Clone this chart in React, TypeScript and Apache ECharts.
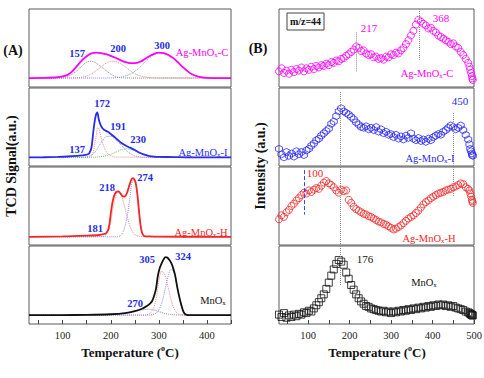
import { useEffect, useRef } from 'react';
import * as echarts from 'echarts';

const SERIF = '"Liberation Serif","Times New Roman",serif';

// ---------- Panel A: H2-TPR (TCD signal) ----------
const tA_C = [30,60,90,100,110,120,130,140,150,160,170,180,190,200,210,220,230,240,250,260,270,280,290,300,310,320,330,340,350,360,370,380,390,400,420,450];
const vA_C = [11.5,11.7,12.5,13.5,15.5,20,27,34,39.5,43,44,43.5,42,40,37.5,34.5,32,30.5,30.5,32,35.5,39.5,42.5,44,43.5,41,37,31.5,25.5,20,16,13.5,12.3,11.8,11.5,11.5];
const tA_C_p1 = [30,90,100,110,120,130,140,150,160,170,180,190,200,210,220,240,450];
const vA_C_p1 = [11.5,11.5,12,13.5,16.5,21,27,32,33,30.5,26,21,16.5,13.5,12,11.5,11.5];
const tA_C_p2 = [30,120,140,150,160,170,180,190,200,210,220,230,240,250,260,270,280,290,300,450];
const vA_C_p2 = [11.5,11.5,12.5,14,17,21,26,30.5,33,32.5,30,26,21,17,14.5,13,12,11.7,11.5,11.5];
const tA_C_p3 = [30,200,220,230,240,250,260,270,280,290,300,310,320,330,340,350,360,370,380,390,400,450];
const vA_C_p3 = [11.5,11.5,12.5,14,16.5,20,25,31,37,41.5,44,43.5,41,37,31.5,25.5,20,16,13.5,12.3,11.8,11.5];

const tA_I = [30,60,90,110,130,140,150,155,160,163,166,169,172,175,178,181,185,190,195,200,210,220,230,240,250,260,270,280,290,300,330,360,450];
const vA_I = [11,11.2,11.7,12.2,13,13.6,14.5,16,24,40,55,65,68.7,60,54,50,47,45,43.5,41,36,30.5,26.5,23.5,20.5,17,14.5,12.8,12,11.7,11.4,11.1,11];
const tA_I_p1 = [30,150,158,162,166,170,173,176,180,185,190,195,200,210,450];
const vA_I_p1 = [11,11,12,15,25,40,50,46,36,26,19,15,13,11.5,11];
const tA_I_p2 = [30,140,150,160,170,180,190,200,210,220,230,240,250,260,270,450];
const vA_I_p2 = [11,11,11.8,14,20,30,37.5,38,34,28,21,16,13,11.8,11.2,11];
const tA_I_p3 = [30,150,170,190,200,210,220,230,240,250,260,270,280,290,300,310,450];
const vA_I_p3 = [11,11,11.5,13,15,17.5,20.5,22,21.5,19.5,17,14.5,13,12,11.5,11.2,11];

const tA_H = [30,100,150,175,185,190,195,198,201,204,207,210,213,216,219,222,225,228,231,234,237,240,243,246,249,252,255,258,261,264,267,270,280,300,450];
const vA_H = [10.5,11,12,12.8,13.8,15,20,30,45,56,63,67,68.5,68.7,67,64.5,62.5,62,63.5,67,73,79,84,85.7,84,79,67,48,30,18,13,11.5,11,10.7,10.5];
const tA_H_p1 = [30,185,190,195,200,205,210,215,220,225,230,235,240,245,250,255,260,270,450];
const vA_H_p1 = [10.5,11,13,18,30,48,62,68,66,58,46,34,24,17,13.5,11.8,11,10.5,10.5];
const tA_H_p2 = [30,215,220,225,230,235,240,245,250,255,258,261,264,267,270,450];
const vA_H_p2 = [10.5,10.5,12,16,25,40,62,82,84,67,48,30,18,13,11,10.5];

const tA_M = [30,100,150,200,230,250,265,275,282,286,290,294,298,302,306,310,314,318,322,326,330,334,338,342,346,350,354,358,365,400,450];
const vA_M = [11.4,11.5,11.7,12.5,14,16.5,19.5,23,26.5,29.5,36,45,62,72,78,83,85.7,85,82,78,71,62,48,36,26,17.5,13,11.8,11.5,11.4,11.4];
const tA_M_p1 = [30,270,280,285,290,295,300,305,310,315,320,325,330,335,340,345,350,360,450];
const vA_M_p1 = [11.4,11.4,13,16,22,35,55,67.5,66,58,45,32,22,16,13,12,11.5,11.4,11.4];
const tA_M_p2 = [30,280,290,295,300,305,310,315,320,325,330,335,340,345,350,355,360,450];
const vA_M_p2 = [11.4,11.4,12.5,14,18,25,36,50,63,70,68,58,42,27,17,12.5,11.5,11.4];
const tA_M_p3 = [30,150,200,230,250,260,270,280,290,300,310,320,340,450];
const vA_M_p3 = [11.4,11.6,12.5,14,16,17.5,18.5,19,18,16,14,12.5,11.6,11.4];

// ---------- Panel B: MS signal m/z=44 ----------
const tempB = [
  30,36,42,48,54,60,66,72,78,84,
  90,96,102,108,114,120,126,132,138,144,
  150,156,162,168,174,180,186,192,198,204,
  210,216,222,228,234,240,246,252,258,264,
  270,276,282,288,294,300,306,312,318,324,
  330,336,342,348,354,360,366,372,378,384,
  390,396,402,408,414,420,426,432,438,444,
  450,456,462,468,474,480,486,
  489,491,493,495,496,497,
];
const msC = [
  20,24,18,21,17,22,19,23,21,25,
  20,24,22,26,23,27,25,28,27,30,
  28,32,31,34,33,36,37,40,42,45,
  48,52,50,46,47,43,41,42,38,39,
  36,37,35,39,38,42,41,44,43,47,
  50,55,60,66,72,80,86,84,81,79,
  75,76,72,70,66,64,62,60,58,55,
  56,52,50,45,41,36,31,
  26,22,18,14,11,9,
];
const msI = [
  22,15,11,18,13,16,12,19,15,18,
  14,20,22,26,29,33,35,39,42,45,
  48,54,57,64,70,74,70,68,66,63,
  60,56,53,50,49,51,47,49,46,50,
  44,47,42,44,40,41,37,40,35,38,
  34,39,36,42,35,33,36,32,34,31,
  35,33,37,39,41,40,44,46,49,52,
  50,47,49,52,46,40,34,
  28,22,19,16,14,13,
];
const msH = [
  33,38,36,42,45,50,53,57,60,64,
  67,66,70,68,71,73,72,76,80,82,
  79,77,74,70,67,71,69,70,58,54,
  49,46,44,42,40,39,37,36,34,32,
  30,29,27,26,24,22,20,21,23,25,
  28,31,34,36,38,41,44,48,52,55,
  57,60,62,64,66,67,68,70,71,72,
  74,75,77,79,78,74,72,
  70,66,62,58,56,54,
];
const msM = [
  12,9,14,8,11,9,12,10,13,12,
  15,14,17,16,20,24,28,33,38,45,
  53,62,70,77,82,80,76,66,58,50,
  44,38,33,29,26,23,22,20,19,18,
  17,16,17,15,16,14,16,15,17,16,
  18,17,19,18,20,19,21,20,22,21,
  23,22,24,23,25,24,25,23,24,22,
  23,21,20,19,18,16,15,
  14,13,12,12,11,11,
];

const ticksA = [50,100,150,200,250,300,350,400,450];
const labelsA = [100,200,300,400];
const ticksB = [50,100,150,200,250,300,350,400,450,500];
const labelsB = [100,200,300,400,500];

const MAG = '#ff00ff';
const BLU = '#2a2af2';
const RED = '#f02828';
const BLK = '#111111';
const PK = '#1f2ee8';

const zip = (xs: number[], ys: number[]) => xs.map((x, i) => [x, ys[i]]);

const tops = [9, 88, 167, 246];

function lineS(g: number, xs: number[], ys: number[], color: string, dotted = false) {
  return {
    type: 'line', xAxisIndex: g, yAxisIndex: g, data: zip(xs, ys),
    showSymbol: false, symbol: 'none', smooth: 0.3, silent: true,
    z: dotted ? 2 : 3,
    lineStyle: { color, width: dotted ? 1 : 1.8, type: dotted ? 'dotted' : 'solid' },
  };
}

const HEX = 'path://M5,0 L10,2.9 L10,8.7 L5,11.6 L0,8.7 L0,2.9 Z';

function vline(x: number, y1: number, y2: number, style?: any) {
  return [{ coord: [x, y1], lineStyle: style }, { coord: [x, y2] }];
}

function scatterS(g: number, ys: number[], color: string, symbol: string, marks: any[]) {
  return {
    type: 'scatter', xAxisIndex: g, yAxisIndex: g, data: zip(tempB, ys),
    symbol, symbolSize: 7, silent: true,
    itemStyle: { color: 'rgba(0,0,0,0)', borderColor: color, borderWidth: 1 },
    markLine: {
      silent: true, symbol: ['none', 'none'], label: { show: false },
      lineStyle: { color: '#8a8a8a', type: 'dotted', width: 1 },
      data: marks,
    },
  };
}

function txt(x: number, y: number, text: string, color: string, size: number, bold = false) {
  return {
    type: 'text', x, y, silent: true, z: 10,
    style: {
      text, fill: color, font: `${bold ? 'bold ' : ''}${size}px ${SERIF}`,
      align: 'center', verticalAlign: 'middle',
    },
  };
}

function sub(x: number, y: number, pre: string, post: string, color: string, size = 10.5) {
  return {
    type: 'text', x, y, silent: true, z: 10,
    style: {
      text: post ? `{m|${pre}}{s|x}{m|${post}}` : `{m|${pre}}{s|x}`,
      align: 'center', verticalAlign: 'middle',
      rich: {
        m: { fontFamily: SERIF, fontSize: size, fill: color, lineHeight: size + 2 },
        s: { fontFamily: SERIF, fontSize: 7, fill: color, verticalAlign: 'bottom', lineHeight: 7 },
      },
    },
  };
}

function tempTitle(x: number, y: number) {
  return {
    type: 'text', x, y, silent: true, z: 10,
    style: {
      text: '{t|Temperature (}{o|o}{t|C)}',
      align: 'center', verticalAlign: 'middle',
      rich: {
        t: { fontFamily: SERIF, fontWeight: 'bold', fontSize: 13, fill: BLK, lineHeight: 16 },
        o: { fontFamily: SERIF, fontWeight: 'bold', fontSize: 8, fill: BLK, verticalAlign: 'top', lineHeight: 9 },
      },
    },
  };
}

export default function App() {
  const ref = useRef<HTMLDivElement>(null);
  useEffect(() => {
    const chart = echarts.init(ref.current!, null, { renderer: 'svg' });
    const grids: any[] = [];
    const xAxes: any[] = [];
    const yAxes: any[] = [];
    for (let i = 0; i < 8; i++) {
      const isA = i < 4;
      grids.push({
        left: isA ? 29 : 279, top: tops[i % 4], width: isA ? 202 : 195, height: 78,
        show: true, borderColor: '#5a5a5a', borderWidth: 1, backgroundColor: 'transparent',
        containLabel: false, outerBoundsMode: 'none',
      });
      const bottom = i % 4 === 3;
      xAxes.push({
        type: 'value', gridIndex: i, min: 30, max: isA ? 450 : 500, show: bottom,
        axisLine: { show: false }, splitLine: { show: false },
        axisTick: { show: true, inside: true, length: 4, lineStyle: { color: '#444' }, customValues: isA ? ticksA : ticksB },
        axisLabel: { customValues: isA ? labelsA : labelsB, fontFamily: SERIF, fontSize: 10.5, color: '#222', margin: 6 },
      });
      yAxes.push({ type: 'value', gridIndex: i, min: 0, max: 100, show: false });
    }

    const series: any[] = [
      lineS(0, tA_C_p1, vA_C_p1, '#8c8c8c', true),
      lineS(0, tA_C_p2, vA_C_p2, '#f08a8a', true),
      lineS(0, tA_C_p3, vA_C_p3, '#8a8af5', true),
      lineS(0, tA_C, vA_C, MAG),
      lineS(1, tA_I_p1, vA_I_p1, '#f08a8a', true),
      lineS(1, tA_I_p2, vA_I_p2, '#8a8af5', true),
      lineS(1, tA_I_p3, vA_I_p3, '#6cbf6c', true),
      lineS(1, tA_I, vA_I, BLU),
      lineS(2, tA_H_p1, vA_H_p1, '#f08a8a', true),
      lineS(2, tA_H_p2, vA_H_p2, '#8a8af5', true),
      lineS(2, tA_H, vA_H, RED),
      lineS(3, tA_M_p3, vA_M_p3, '#8c8c8c', true),
      lineS(3, tA_M_p1, vA_M_p1, '#f08a8a', true),
      lineS(3, tA_M_p2, vA_M_p2, '#8a8af5', true),
      lineS(3, tA_M, vA_M, BLK),
      scatterS(4, msC, MAG, 'circle', [vline(217, 70, 20), vline(368, 100, 35)]),
      scatterS(5, msI, BLU, HEX, [vline(177, 95, 0), vline(449, 68, 0)]),
      scatterS(6, msH, RED, 'circle', [
        vline(177, 100, 0), vline(449, 100, 63),
        vline(90, 96, 39, { color: '#3344ff', type: 'dashed', width: 1 }),
      ]),
      scatterS(7, msM, BLK, 'rect', [vline(177, 100, 50)]),
    ];

    const graphic: any[] = [
      txt(13, 50, '(A)', BLK, 14, true),
      txt(258, 48, '(B)', BLK, 14, true),
      { type: 'text', x: 11, y: 166, rotation: Math.PI / 2, silent: true,
        style: { text: 'TCD Signal(a.u.)', fill: BLK, font: `bold 14px ${SERIF}`, align: 'center', verticalAlign: 'middle' } },
      { type: 'text', x: 260, y: 166, rotation: Math.PI / 2, silent: true,
        style: { text: 'Intensity (a.u.)', fill: BLK, font: `bold 14px ${SERIF}`, align: 'center', verticalAlign: 'middle' } },
      tempTitle(130, 352),
      tempTitle(377, 352),
      // A labels
      txt(77, 53, '157', PK, 10.5, true), txt(118, 48, '200', PK, 10.5, true), txt(162, 45, '300', PK, 10.5, true),
      sub(202, 52, 'Ag-MnO', '-C', MAG),
      txt(102, 103, '172', PK, 10.5, true), txt(118, 126, '191', PK, 10.5, true), txt(138, 139, '230', PK, 10.5, true), txt(77, 149, '137', PK, 10.5, true),
      sub(203, 152, 'Ag-MnO', '-I', BLU),
      txt(107, 187, '218', PK, 10.5, true), txt(145, 177, '274', PK, 10.5, true), txt(95, 228, '181', PK, 10.5, true),
      sub(201, 232, 'Ag-MnO', '-H', RED),
      txt(147, 259, '305', PK, 10.5, true), txt(183, 256, '324', PK, 10.5, true), txt(135, 303, '270', PK, 10.5, true),
      sub(213, 300, 'MnO', '', BLK),
      // B labels
      { type: 'rect', shape: { x: 287, y: 13, width: 37, height: 17 }, silent: true, z: 9,
        style: { fill: '#ffffff', stroke: '#444', lineWidth: 1 } },
      txt(305.5, 21.5, 'm/z=44', BLK, 10, true),
      txt(369, 28, '217', MAG, 11), txt(441, 18, '368', MAG, 11),
      sub(427, 73, 'Ag-MnO', '-C', MAG),
      txt(460, 101, '450', BLU, 11),
      sub(430, 158, 'Ag-MnO', '-I', BLU),
      txt(315, 173, '100', RED, 11),
      sub(429, 238, 'Ag-MnO', '-H', RED),
      txt(365, 259, '176', BLK, 11),
      sub(424, 282, 'MnO', '', BLK),
    ];

    chart.setOption({
      animation: false,
      backgroundColor: '#ffffff',
      grid: grids,
      xAxis: xAxes,
      yAxis: yAxes,
      series,
      graphic,
    });
    return () => chart.dispose();
  }, []);
  return <div ref={ref} style={{ position: 'fixed', left: 0, top: 0, width: 484, height: 378 }} />;
}
